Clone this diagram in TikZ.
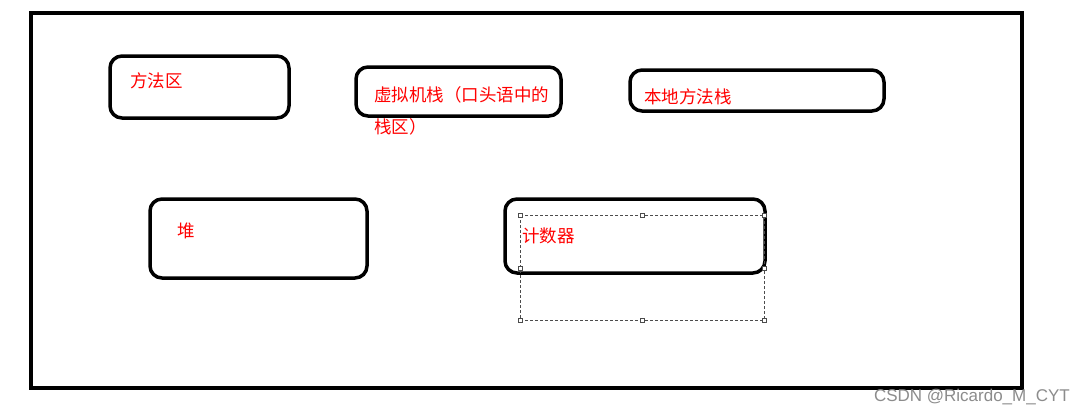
\documentclass[tikz,border=0pt]{standalone}
\usepackage{fontspec}
\setmainfont{Liberation Sans}
\newfontfamily\cjk{Noto Sans CJK SC}
\begin{document}
\begin{tikzpicture}[x=1pt,y=-1pt,
  box/.style={draw=black,line width=3.5pt,rounded corners=12pt},
  lbl/.style={text=red,font=\cjk\fontsize{17.5}{21}\selectfont,anchor=west,inner sep=0pt},
  hdl/.style={draw=black!70,fill=white,line width=0.5pt,minimum size=4pt,inner sep=0pt}]
\useasboundingbox[fill=white] (0,0) rectangle (1084,415);
\draw[line width=4pt] (31,13) rectangle (1022,388);
\draw[box] (110,56) rectangle (289,118);
\node[lbl] (t1) at (130,81) {方法区};
\draw[box] (356,67) rectangle (561,116);
\node[lbl] (t2) at (374,95) {虚拟机栈（口头语中的};
\node[lbl] (t2b) at (374,127) {栈区）};
\draw[box] (630,70) rectangle (884,111);
\node[lbl] (t3) at (644,97) {本地方法栈};
\draw[box] (150,199) rectangle (367,278);
\node[lbl] (t4) at (177,231) {堆};
\draw[box] (505,199) rectangle (765,273);
\node[lbl] (t5) at (522,236) {计数器};
\draw[dashed,line width=0.5pt,black!70,dash pattern=on 3pt off 2pt] (520,215) rectangle (764,320);
\foreach \p [count=\i] in {(520,215),(642,215),(764,215),(520,268),(764,268),(520,320),(642,320),(764,320)}
  \node[hdl] (h\i) at \p {};
\node[text=black!45,font=\fontsize{17}{19}\selectfont,anchor=east,inner sep=0pt] (wm) at (1070,397) {CSDN @Ricardo\_M\_CYT};
\end{tikzpicture}
\end{document}
